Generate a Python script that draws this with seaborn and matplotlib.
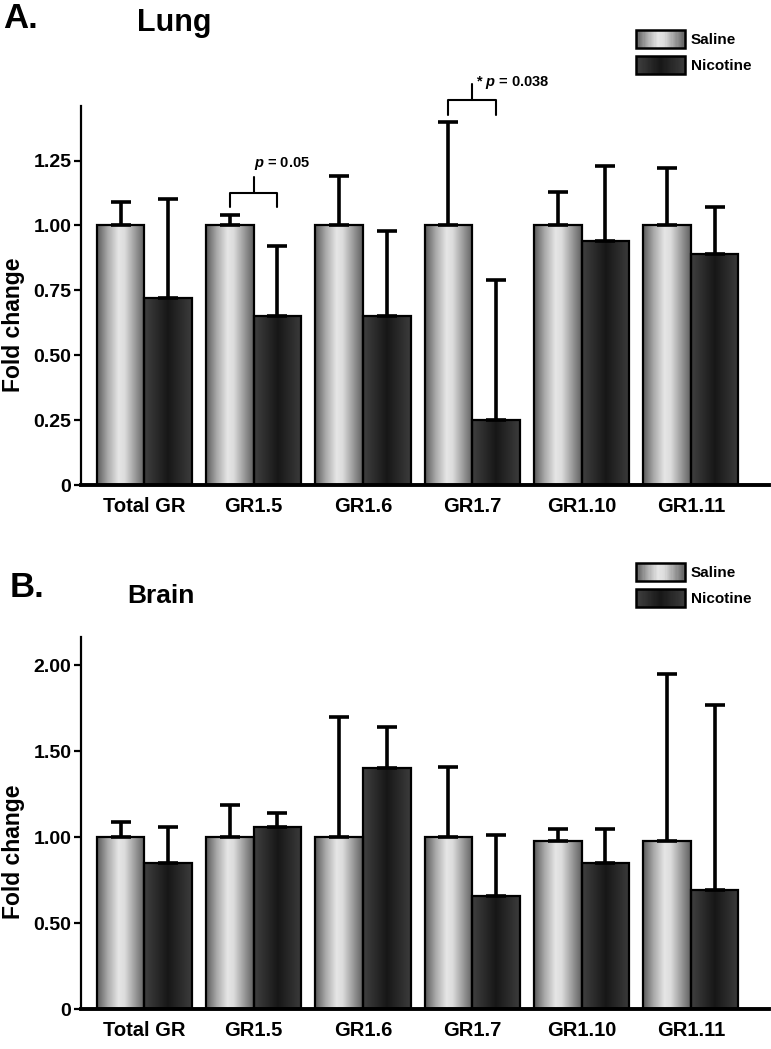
import numpy as np
import pandas as pd
import matplotlib
matplotlib.use("Agg")
import matplotlib.pyplot as plt
import seaborn as sns
from matplotlib.colors import LinearSegmentedColormap
from matplotlib.patches import Patch, Rectangle
from matplotlib.legend_handler import HandlerBase


genes = ["Total GR", "GR1.5", "GR1.6", "GR1.7", "GR1.10", "GR1.11"]
groups = ["Saline", "Nicotine"]

lung_saline = [1.00, 1.00, 1.00, 1.00, 1.00, 1.00]
lung_saline_err = [0.09, 0.04, 0.19, 0.40, 0.13, 0.22]
lung_nicotine = [0.72, 0.65, 0.65, 0.25, 0.94, 0.89]
lung_nicotine_err = [0.38, 0.27, 0.33, 0.54, 0.29, 0.18]

brain_saline = [1.00, 1.00, 1.00, 1.00, 0.98, 0.98]
brain_saline_err = [0.09, 0.19, 0.70, 0.41, 0.07, 0.97]
brain_nicotine = [0.85, 1.06, 1.40, 0.66, 0.85, 0.69]
brain_nicotine_err = [0.21, 0.08, 0.24, 0.35, 0.20, 1.08]

lung_ticks = [0, 0.25, 0.50, 0.75, 1.00, 1.25]
brain_ticks = [0, 0.50, 1.00, 1.50, 2.00]

# significance brackets on the lung panel: gene index, label, bracket y, leg bottom, tick top, text y, text dx
lung_sig = [
    (1, "$p$ = 0.05", 1.126, 1.07, 1.185, 1.224, 0.0),
    (3, "* $p$ = 0.038", 1.484, 1.425, 1.544, 1.538, 0.03),
]

SALINE_CMAP = LinearSegmentedColormap.from_list(
    "saline", [(0, "#5a5a5a"), (0.22, "#a8a8a8"), (0.45, "#e6e6e6"),
               (0.58, "#dcdcdc"), (0.8, "#9a9a9a"), (1, "#606060")])
NICOTINE_CMAP = LinearSegmentedColormap.from_list(
    "nicotine", [(0, "#404040"), (0.5, "#171717"), (1, "#3c3c3c")])
CMAPS = [SALINE_CMAP, NICOTINE_CMAP]


class GradientHandler(HandlerBase):
    def __init__(self, cmap):
        super().__init__()
        self.cmap = cmap

    def create_artists(self, legend, orig_handle, xdescent, ydescent,
                       width, height, fontsize, trans):
        n = 40
        arts = []
        for i in range(n):
            arts.append(Rectangle((-xdescent + i * width / n, -ydescent),
                                  width / n * 1.05, height,
                                  facecolor=self.cmap((i + 0.5) / n),
                                  edgecolor="none", transform=trans))
        arts.append(Rectangle((-xdescent, -ydescent), width, height,
                              facecolor="none", edgecolor="black",
                              linewidth=1.8, transform=trans))
        return arts


sns.set_style("ticks")
plt.rcParams["font.family"] = ["Liberation Sans", "DejaVu Sans"]
plt.rcParams["font.weight"] = "bold"
plt.rcParams["axes.labelweight"] = "bold"
for key in ["text.color", "axes.labelcolor", "xtick.color", "ytick.color",
            "axes.edgecolor"]:
    plt.rcParams[key] = "black"
plt.rcParams["mathtext.fontset"] = "custom"
plt.rcParams["mathtext.it"] = "Liberation Sans:italic:bold"
plt.rcParams["mathtext.rm"] = "Liberation Sans:bold"
plt.rcParams["mathtext.bf"] = "Liberation Sans:bold"


def draw_panel(ax, saline, saline_err, nicotine, nicotine_err, ticks, ymax):
    df = pd.DataFrame({
        "gene": genes * 2,
        "group": ["Saline"] * len(genes) + ["Nicotine"] * len(genes),
        "value": list(saline) + list(nicotine),
    })
    sns.barplot(data=df, x="gene", y="value", hue="group", order=genes,
                hue_order=groups, palette=["#cccccc", "#222222"],
                width=0.87, saturation=1, edgecolor="black", linewidth=1.6,
                errorbar=None, legend=False, ax=ax)

    grad = np.linspace(0, 1, 256).reshape(1, -1)
    for container, cmap, err in zip(ax.containers, CMAPS, [saline_err, nicotine_err]):
        xs, hs = [], []
        for patch in container.patches:
            x0, w, h = patch.get_x(), patch.get_width(), patch.get_height()
            patch.set_facecolor("none")
            patch.set_zorder(2)
            im = ax.imshow(grad, cmap=cmap, extent=(x0, x0 + w, 0, h),
                           aspect="auto", origin="lower", zorder=1.5)
            im.set_clip_path(patch)
            xs.append(x0 + w / 2)
            hs.append(h)
        ax.errorbar(xs, hs, yerr=[np.zeros(len(err)), err], fmt="none",
                    ecolor="black", elinewidth=2.6, capsize=7.5, capthick=2.6,
                    zorder=3)

    ax.set_xlim(-0.58, 5.715)
    ax.set_ylim(0, ymax)
    ax.set_yticks(ticks)
    ax.set_yticklabels(["0" if t == 0 else f"{t:.2f}" for t in ticks])
    ax.set_xlabel("")
    ax.set_ylabel("Fold change", fontsize=16.5)
    ax.yaxis.set_label_coords(-0.082, 0.422)
    sns.despine(ax=ax)
    ax.spines["left"].set_linewidth(1.6)
    ax.spines["bottom"].set_linewidth(2.8)
    ax.tick_params(axis="y", direction="out", length=5, width=1.6,
                   labelsize=14, pad=2)
    ax.tick_params(axis="x", length=0, labelsize=14.5, pad=9)
    for lab in ax.get_xticklabels() + ax.get_yticklabels():
        lab.set_fontweight("bold")


def add_legend(fig, ax, y_px):
    handles = [Patch(label=g) for g in groups]
    hmap = {h: GradientHandler(c) for h, c in zip(handles, CMAPS)}
    ax.legend(handles=handles, handler_map=hmap, loc="upper left",
              bbox_to_anchor=(636 / 771, 1 - y_px / 1049),
              bbox_transform=fig.transFigure, frameon=False, borderpad=0,
              borderaxespad=0, handlelength=3.2, handleheight=1.45,
              labelspacing=0.5, handletextpad=0.4,
              prop={"weight": "bold", "size": 11})


fig = plt.figure(figsize=(7.71, 10.49), dpi=100)
ax_lung = fig.add_axes([81 / 771, 1 - 485 / 1049, 688 / 771, 379 / 1049])
ax_brain = fig.add_axes([81 / 771, 1 - 1009 / 1049, 688 / 771, 372 / 1049])

draw_panel(ax_lung, lung_saline, lung_saline_err, lung_nicotine,
           lung_nicotine_err, lung_ticks, 1.46)
draw_panel(ax_brain, brain_saline, brain_saline_err, brain_nicotine,
           brain_nicotine_err, brain_ticks, 2.165)

for idx, label, by, leg, top, ty, dx in lung_sig:
    left = ax_lung.containers[0].patches[idx]
    right = ax_lung.containers[1].patches[idx]
    xl = left.get_x() + left.get_width() / 2
    xr = right.get_x() + right.get_width() / 2
    xm = (xl + xr) / 2
    ax_lung.plot([xl, xl, xr, xr], [leg, by, by, leg], color="black",
                 lw=1.5, clip_on=False, zorder=4)
    ax_lung.plot([xm, xm], [by, top], color="black", lw=1.5, clip_on=False,
                 zorder=4)
    ax_lung.text(xm + dx, ty, label, ha="left", va="baseline", fontsize=10.5,
                 fontweight="bold", clip_on=False)

add_legend(fig, ax_lung, 30)
add_legend(fig, ax_brain, 563)

fig.text(3 / 771, 1 - 28 / 1049, "A.", fontsize=25, fontweight="bold",
         va="baseline")
fig.text(137 / 771, 1 - 31 / 1049, "Lung", fontsize=22, fontweight="bold",
         va="baseline")
fig.text(10 / 771, 1 - 597 / 1049, "B.", fontsize=25, fontweight="bold",
         va="baseline")
fig.text(127 / 771, 1 - 603 / 1049, "Brain", fontsize=19, fontweight="bold",
         va="baseline")

fig.savefig("out.png", dpi=100)
plt.close(fig)
